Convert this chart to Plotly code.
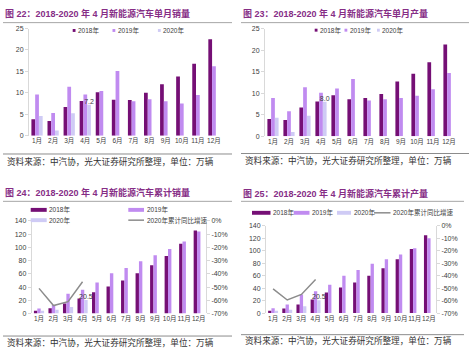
import plotly.graph_objects as go

W, H = 474, 356

months = ["1月", "2月", "3月", "4月", "5月", "6月", "7月", "8月", "9月", "10月", "11月", "12月"]
year_names = ["2018年", "2019年", "2020年"]
yoy_name = "2020年累计同比增速"

sales_2018 = [3.8, 3.4, 6.7, 8.1, 10.1, 8.4, 8.3, 10.0, 12.0, 13.8, 16.8, 22.5]
sales_2019 = [9.6, 5.3, 11.4, 9.6, 10.4, 15.1, 8.0, 8.5, 8.0, 7.5, 9.5, 16.2]
sales_2020 = [4.6, 1.2, 5.2, 7.2]

prod_2018 = [4.0, 3.8, 6.7, 8.1, 9.5, 8.6, 8.9, 9.8, 12.7, 14.5, 17.2, 21.3]
prod_2019 = [8.9, 5.8, 11.4, 10.1, 11.1, 13.3, 8.3, 8.6, 8.9, 9.4, 10.9, 14.7]
prod_2020 = [4.3, 1.0, 4.8, 8.0]

cum_sales_2018 = [4.0, 8.0, 15.0, 22.5, 32.0, 41.0, 50.0, 61.0, 73.0, 87.0, 105.5, 125.6]
cum_sales_2019 = [7.4, 13.0, 30.0, 36.0, 47.0, 61.0, 69.0, 79.0, 88.0, 97.5, 109.0, 124.0]
cum_sales_2020 = [4.0, 5.5, 10.0, 20.5]
cum_sales_yoy = [-51.0, -64.0, -61.0, -46.0]

cum_prod_2018 = [3.7, 7.3, 14.0, 22.0, 33.0, 41.0, 49.0, 60.0, 72.0, 86.5, 103.0, 125.0]
cum_prod_2019 = [7.9, 14.0, 30.0, 35.0, 45.6, 60.0, 69.0, 79.0, 86.5, 94.0, 104.0, 120.0]
cum_prod_2020 = [3.7, 5.2, 11.0, 20.5]
cum_prod_yoy = [-50.6, -59.5, -55.0, -43.0]

titles = [
    "图 22：2018-2020 年 4 月新能源汽车单月销量",
    "图 23：2018-2020 年 4 月新能源汽车单月产量",
    "图 24：2018-2020 年 4 月新能源汽车累计销量",
    "图 25：2018-2020 年 4 月新能源汽车累计产量",
]
source_note = "资料来源：中汽协，光大证券研究所整理，单位：万辆"

pct_ticks = [0, -10, -20, -30, -40, -50, -60, -70]

C18, C19, C20 = "#750F75", "#C08BF0", "#CFCBF5"
CLINE = "#8C8C8C"
CTITLE = "#862D86"
FONT = "Arial, 'Liberation Sans', 'Noto Sans CJK SC', sans-serif"
CJK = "'Noto Sans CJK SC', Arial, sans-serif"


def fx(px):
    return px / W


def fy(py):
    return 1 - py / H


fig = go.Figure()


def add_bars(xa, ya, s18, s19, s20):
    lbl = [f"{v:.1f}" if i == len(s20) - 1 else "" for i, v in enumerate(s20)]
    for name, vals, col, txt in [
        (year_names[0], s18, C18, None),
        (year_names[1], s19, C19, None),
        (year_names[2], s20, C20, lbl),
    ]:
        fig.add_trace(go.Bar(
            x=months[:len(vals)], y=vals, name=name, marker_color=col,
            marker_line_width=0, xaxis=xa, yaxis=ya, showlegend=False,
            text=txt, textposition="outside", constraintext="none",
            cliponaxis=False, textfont=dict(size=7, color="#404040", family=FONT),
        ))


def add_line(xa, ya, vals):
    fig.add_trace(go.Scatter(
        x=months[:len(vals)], y=vals, name=yoy_name, mode="lines",
        line=dict(color=CLINE, width=1.5), xaxis=xa, yaxis=ya, showlegend=False,
    ))


add_bars("x", "y", sales_2018, sales_2019, sales_2020)
add_bars("x2", "y2", prod_2018, prod_2019, prod_2020)
add_bars("x3", "y3", cum_sales_2018, cum_sales_2019, cum_sales_2020)
add_line("x3", "y4", cum_sales_yoy)
add_bars("x4", "y5", cum_prod_2018, cum_prod_2019, cum_prod_2020)
add_line("x4", "y6", cum_prod_yoy)

tickfont = dict(size=7, color="#404040", family=FONT)
xcommon = dict(type="category", categoryorder="array", categoryarray=months,
               showline=False, ticks="", showgrid=False, zeroline=False,
               tickangle=0, tickfont=dict(size=6.5, color="#404040", family=FONT),
               fixedrange=True)
ycommon = dict(showline=True, linecolor="#D9D9D9", linewidth=1, ticks="outside",
               ticklen=3, tickcolor="#D9D9D9", showgrid=False, zeroline=False,
               tickfont=tickfont, fixedrange=True)

layout = dict(
    width=W, height=H, margin=dict(l=0, r=0, t=0, b=0),
    paper_bgcolor="white", plot_bgcolor="rgba(0,0,0,0)",
    barmode="group", bargap=0.3, bargroupgap=0,
    showlegend=False, font=dict(family=FONT, size=7, color="#404040"),
    xaxis=dict(xcommon, domain=[fx(29), fx(222)], anchor="y"),
    yaxis=dict(ycommon, domain=[fy(134.3), fy(25)], range=[0, 25], dtick=5, anchor="x"),
    xaxis2=dict(xcommon, domain=[fx(265), fx(457)], anchor="y2"),
    yaxis2=dict(ycommon, domain=[fy(135), fy(25)], range=[0, 25], dtick=5, anchor="x2"),
    xaxis3=dict(xcommon, domain=[fx(31.75), fx(206)], anchor="y3"),
    yaxis3=dict(ycommon, domain=[fy(315.7), fy(221.3)], range=[0, 140], dtick=20, anchor="x3"),
    yaxis4=dict(ycommon, overlaying="y3", side="right", anchor="x3", range=[-70, 0],
                tickvals=pct_ticks, ticktext=[f"{v}%" for v in pct_ticks]),
    xaxis4=dict(xcommon, domain=[fx(266), fx(436)], anchor="y5"),
    yaxis5=dict(ycommon, domain=[fy(315.3), fy(226.3)], range=[0, 140], dtick=20, anchor="x4"),
    yaxis6=dict(ycommon, overlaying="y5", side="right", anchor="x4", range=[-70, 0],
                tickvals=pct_ticks, ticktext=[f"{v}%" for v in pct_ticks]),
)
fig.update_layout(**layout)

shapes = []
annotations = []

# titles, separators and source notes for the four panels
panels = [
    # title x, title y, title-line y, line x0, x1, source-line y, source y
    (3, 9.5, 19, 3, 232, 153, 160),
    (241, 9.5, 19, 241, 469, 152.5, 159.5),
    (3, 192.5, 201.3, 3, 232, 338.7, 344.5),
    (241, 193, 201.3, 241, 464, 337.3, 343),
]
for (tx, ty, ly, x0, x1, sly, sy), title in zip(panels, titles):
    annotations.append(dict(
        text=f"<b>{title}</b>", x=fx(tx), y=fy(ty), xref="paper", yref="paper",
        xanchor="left", yanchor="middle", showarrow=False,
        font=dict(size=9, color=CTITLE, family=FONT)))
    shapes.append(dict(type="line", xref="paper", yref="paper", x0=fx(x0), x1=fx(x1),
                       y0=fy(ly), y1=fy(ly), line=dict(color="#A6A6A6", width=1)))
    shapes.append(dict(type="line", xref="paper", yref="paper", x0=fx(x0), x1=fx(x1),
                       y0=fy(sly), y1=fy(sly), line=dict(color="#8C8C8C", width=1)))
    annotations.append(dict(
        text=source_note, x=fx(x0 + 2), y=fy(sy), xref="paper", yref="paper",
        xanchor="left", yanchor="middle", showarrow=False,
        font=dict(size=8.6, color="#333333", family=CJK)))


def legend_entry(kind, color, label, mx0, mx1, y, h):
    if kind == "bar":
        shapes.append(dict(type="rect", xref="paper", yref="paper", x0=fx(mx0), x1=fx(mx1),
                           y0=fy(y + h / 2), y1=fy(y - h / 2), fillcolor=color,
                           line=dict(width=0)))
    else:
        shapes.append(dict(type="line", xref="paper", yref="paper", x0=fx(mx0), x1=fx(mx1),
                           y0=fy(y), y1=fy(y), line=dict(color=color, width=1.5)))
    annotations.append(dict(text=label, x=fx(mx1 + 0.5), y=fy(y), xref="paper", yref="paper",
                            xanchor="left", yanchor="middle", showarrow=False,
                            font=dict(size=6.5, color="#404040", family=FONT)))


cols = [C18, C19, C20]
# panel 1 legend
for (m0, m1), c, n in zip([(72.7, 75.5), (112.5, 115.3), (157.9, 160.7)], cols, year_names):
    legend_entry("bar", c, n, m0, m1, 27, 3)
# panel 2 legend
for (m0, m1), c, n in zip([(314.7, 317.5), (344.5, 347.3), (377, 379.8)], cols, year_names):
    legend_entry("bar", c, n, m0, m1, 26.7, 3)
# panel 3 legend (two rows)
legend_entry("bar", C18, year_names[0], 30.7, 46.7, 210, 4)
legend_entry("bar", C19, year_names[1], 128.3, 144, 210, 4)
legend_entry("bar", C20, year_names[2], 30.7, 46.7, 220.5, 4)
legend_entry("line", CLINE, yoy_name, 128.3, 144, 220.5, 0)
# panel 4 legend (one row)
legend_entry("bar", C18, year_names[0], 252, 270.5, 213, 4)
legend_entry("bar", C19, year_names[1], 293.7, 309.5, 213, 4)
legend_entry("bar", C20, year_names[2], 337, 351, 213, 4)
legend_entry("line", CLINE, yoy_name, 374, 390.5, 213, 0)

fig.update_layout(shapes=shapes, annotations=annotations)
fig.write_html("out.html", config={"displayModeBar": False},
               post_script="document.body.style.margin='0px';")
